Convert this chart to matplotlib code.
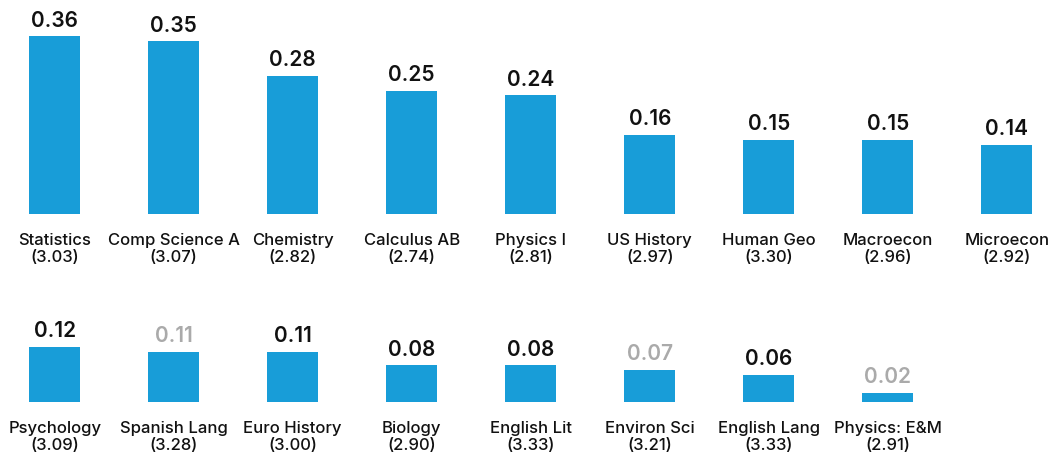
import matplotlib
matplotlib.use("Agg")
import matplotlib.pyplot as plt

# top row
top_names = ['Statistics', 'Comp Science A', 'Chemistry', 'Calculus AB', 'Physics I',
             'US History', 'Human Geo', 'Macroecon', 'Microecon']
top_scores = ['3.03', '3.07', '2.82', '2.74', '2.81', '2.97', '3.30', '2.96', '2.92']
top_vals = [0.36, 0.35, 0.28, 0.25, 0.24, 0.16, 0.15, 0.15, 0.14]
top_muted = [False] * 9

# bottom row
bot_names = ['Psychology', 'Spanish Lang', 'Euro History', 'Biology', 'English Lit',
             'Environ Sci', 'English Lang', 'Physics: E&M']
bot_scores = ['3.09', '3.28', '3.00', '2.90', '3.33', '3.21', '3.33', '2.91']
bot_vals = [0.12, 0.11, 0.11, 0.08, 0.08, 0.07, 0.06, 0.02]
bot_muted = [False, True, False, False, False, True, False, True]

BLUE = '#189dd8'
GREY = '#aaaaaa'
plt.rcParams['font.family'] = ['Inter', 'DejaVu Sans']

W, H = 1049, 457
fig = plt.figure(figsize=(W / 100, H / 100), dpi=100)

def row(bottom_px, top_px, px_per_unit, names, scores, vals, muted):
    ax = fig.add_axes([0, 1 - bottom_px / H, 1, (bottom_px - top_px) / H])
    ax.set_xlim(-54.7 / 119, (W - 54.7) / 119)
    ax.set_ylim(0, (bottom_px - top_px) / px_per_unit)
    ax.axis('off')
    xs = range(len(vals))
    ax.bar(xs, vals, width=51 / 119, color=BLUE)
    for i, v in enumerate(vals):
        ax.annotate(f'{v:.2f}', (i, v), xytext=(0, 4), textcoords='offset points',
                    ha='center', va='bottom', fontsize=15, fontweight='semibold',
                    color=GREY if muted[i] else '#111111')
        ax.annotate(f'{names[i]}\n({scores[i]})', (i, 0), xytext=(0, -14),
                    textcoords='offset points', ha='center', va='top',
                    fontsize=12, fontweight='medium', linespacing=1.12,
                    color='#111111', annotation_clip=False)
    return ax

row(214, 5, 494, top_names, top_scores, top_vals, top_muted)
row(402, 300, 458, bot_names, bot_scores, bot_vals, bot_muted)

fig.savefig('out.png', dpi=100)
